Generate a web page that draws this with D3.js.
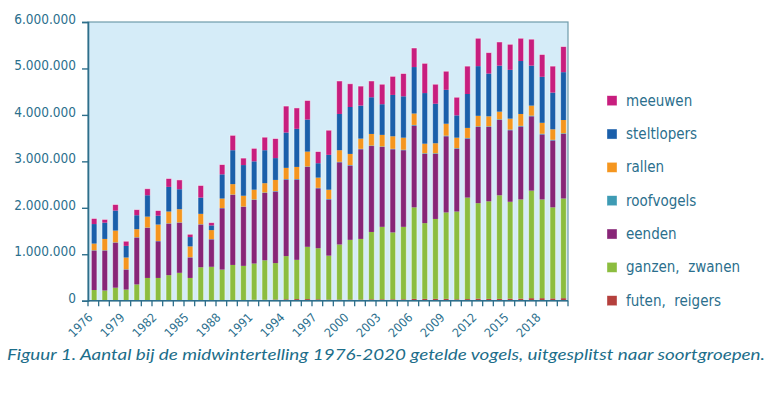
<!DOCTYPE html>
<html><head><meta charset="utf-8">
<script src="https://cdn.jsdelivr.net/npm/d3@7"></script>
<style>
html,body{margin:0;padding:0;background:#fff;}
svg{display:block;}
</style></head>
<body>
<svg id="c" width="770" height="393"></svg>
<script>
const years = d3.range(1976, 2021);
const tickYears = [1976,1979,1982,1985,1988,1991,1994,1997,2000,2003,2006,2009,2012,2015,2018];
const yTicks = [0,1000000,2000000,3000000,4000000,5000000,6000000];
const seriesNames = ["futen,  reigers","ganzen,  zwanen","eenden","roofvogels","rallen","steltlopers","meeuwen"];
const seriesColors = ["#b5403d","#8cbd3f","#882577","#3e9bb4","#f5961f","#1a5faa","#c81e7e"];
// values in thousands of birds
const futen = [5,5,5,5,5,8,8,8,8,8,10,10,10,12,12,20,20,25,30,35,35,30,25,25,25,25,30,30,30,30,40,40,40,40,30,35,45,40,40,45,45,55,55,50,55];
const ganzen = [225,215,275,235,345,482,482,542,592,482,710,720,660,758,738,780,850,785,930,845,1125,1100,945,1185,1285,1305,1450,1560,1440,1560,1970,1630,1720,1860,1890,2185,2055,2100,2230,2085,2135,2315,2125,1960,2145];
const eenden = [850,860,970,430,1010,1080,790,1110,1080,440,920,590,1320,1510,1270,1370,1450,1540,1650,1730,1720,1290,1210,1770,1600,1930,1850,1720,1790,1650,1760,1490,1400,1640,1350,1270,1640,1600,1620,1540,1570,1600,1400,1440,1390];
const roofvogels = [6,6,6,6,6,6,6,6,6,6,6,6,6,6,6,10,10,10,10,10,10,10,10,10,10,10,10,10,10,10,14,14,14,14,14,14,14,14,14,14,14,14,14,14,14];
const rallen = [144,244,254,254,174,234,354,254,284,234,224,194,204,224,234,210,200,240,240,260,320,220,200,250,240,220,250,250,270,260,246,206,216,256,226,216,226,216,166,236,256,216,236,226,286];
const steltlopers = [420,350,430,250,300,460,190,530,430,200,350,100,520,730,660,610,710,470,760,820,690,310,750,780,1010,710,790,660,890,890,1000,1090,850,730,480,730,1070,920,990,1050,1140,860,990,790,1030];
const meeuwen = [120,70,130,100,120,140,110,180,200,60,260,60,210,320,150,280,280,420,570,450,410,250,530,710,500,420,350,430,400,490,410,640,420,400,390,600,600,450,510,550,490,570,480,570,550];

const seriesValues = [futen, ganzen, eenden, roofvogels, rallen, steltlopers, meeuwen];
const keys = seriesNames.map((d,i)=>"s"+i);
const table = years.map((yr,j)=>{
  const o = {year: yr};
  keys.forEach((k,i)=>{ o[k] = seriesValues[i][j]*1000; });
  return o;
});

const svg = d3.select("#c");
const L = 88, R = 568, T = 22, B = 300.7;
const textCol = "#2b6f8d";
const font = "'DejaVu Sans Condensed', 'DejaVu Sans', sans-serif";

const x = d3.scaleBand().domain(years).range([L, R]).paddingInner(0.48).paddingOuter(0.24);
const y = d3.scaleLinear().domain([0, 6000000]).range([B, T]);

// plot background + frame
svg.append("rect").attr("x", L).attr("y", T).attr("width", R-L).attr("height", B-T)
  .attr("fill", "#d5ecf8").attr("stroke", "#6f9cab").attr("stroke-width", 1.2);

const stack = d3.stack().keys(keys)(table);
svg.append("g").selectAll("g").data(stack).join("g")
  .attr("fill", (d,i)=>seriesColors[i])
  .selectAll("rect").data(d=>d).join("rect")
  .attr("x", d=>x(d.data.year)+0.8)
  .attr("width", x.bandwidth())
  .attr("y", d=>y(d[1]))
  .attr("height", d=>Math.max(0, y(d[0])-y(d[1])));

// light outline around each bar
svg.append("g").selectAll("rect").data(table).join("rect")
  .attr("x", d=>x(d.year)+0.8)
  .attr("width", x.bandwidth())
  .attr("y", d=>y(keys.reduce((s,k)=>s+d[k],0)))
  .attr("height", d=>B - y(keys.reduce((s,k)=>s+d[k],0)))
  .attr("fill","none").attr("stroke","rgba(255,255,255,0.55)").attr("stroke-width",0.8);

// y axis
const loc = d3.formatLocale({decimal:",", thousands:".", grouping:[3], currency:["",""]});
const fmt = loc.format(",d");
const yAxis = svg.append("g").attr("transform", `translate(${L},0)`)
  .call(d3.axisLeft(y).tickValues(yTicks).tickFormat(fmt).tickSize(6).tickPadding(6));
yAxis.select(".domain").attr("stroke", "#2e6f8c").attr("stroke-width", 1.6);
yAxis.selectAll(".tick line").attr("stroke", "#2e6f8c").attr("stroke-width", 1.4);
yAxis.selectAll(".tick text").attr("fill", textCol).attr("font-family", font)
  .attr("font-size", "13.5px").attr("dy", "1.5");

// x axis
const step = x.step();
const xg = svg.append("g");
xg.append("line").attr("x1", L).attr("x2", R).attr("y1", B).attr("y2", B)
  .attr("stroke", "#2e6f8c").attr("stroke-width", 1.6);
const bounds = d3.range(years.length+1).map(i => x(years[0]) - x.paddingOuter()*step + i*step);
xg.selectAll("line.t").data(bounds).join("line").attr("class","t")
  .attr("x1", d=>d).attr("x2", d=>d).attr("y1", B).attr("y2", B+5.5)
  .attr("stroke", "#2e6f8c").attr("stroke-width", 1.3);
xg.selectAll("text").data(tickYears).join("text")
  .attr("transform", d=>`translate(${x(d)+x.bandwidth()/2},${B+17.5}) rotate(-45)`)
  .attr("text-anchor","end")
  .attr("fill", textCol).attr("font-family", font).attr("font-size","12.2px")
  .text(d=>d);

// legend
const legendOrder = d3.range(seriesNames.length).reverse();
const lg = svg.append("g");
legendOrder.forEach((si, r)=>{
  const cy = 100.7 + r*33.33;
  lg.append("rect").attr("x", 607).attr("y", cy-5).attr("width", 10).attr("height", 10)
    .attr("fill", seriesColors[si]).attr("stroke","rgba(255,255,255,0.6)").attr("stroke-width",0.6);
  lg.append("text").attr("x", 626).attr("y", cy+5)
    .attr("fill", textCol).attr("font-family", font).attr("font-size","15px")
    .style("white-space","pre")
    .text(seriesNames[si]);
});

// caption
svg.append("text").attr("x", 7).attr("y", 359.5)
  .attr("fill", "#1d6e8a").attr("font-family", "Lato, 'Open Sans', sans-serif")
  .attr("font-style", "italic").attr("font-size", "15.6px")
  .attr("textLength", 758).attr("lengthAdjust", "spacingAndGlyphs")
  .text("Figuur 1. Aantal bij de midwintertelling 1976-2020 getelde vogels, uitgesplitst naar soortgroepen.");
</script>
</body></html>
